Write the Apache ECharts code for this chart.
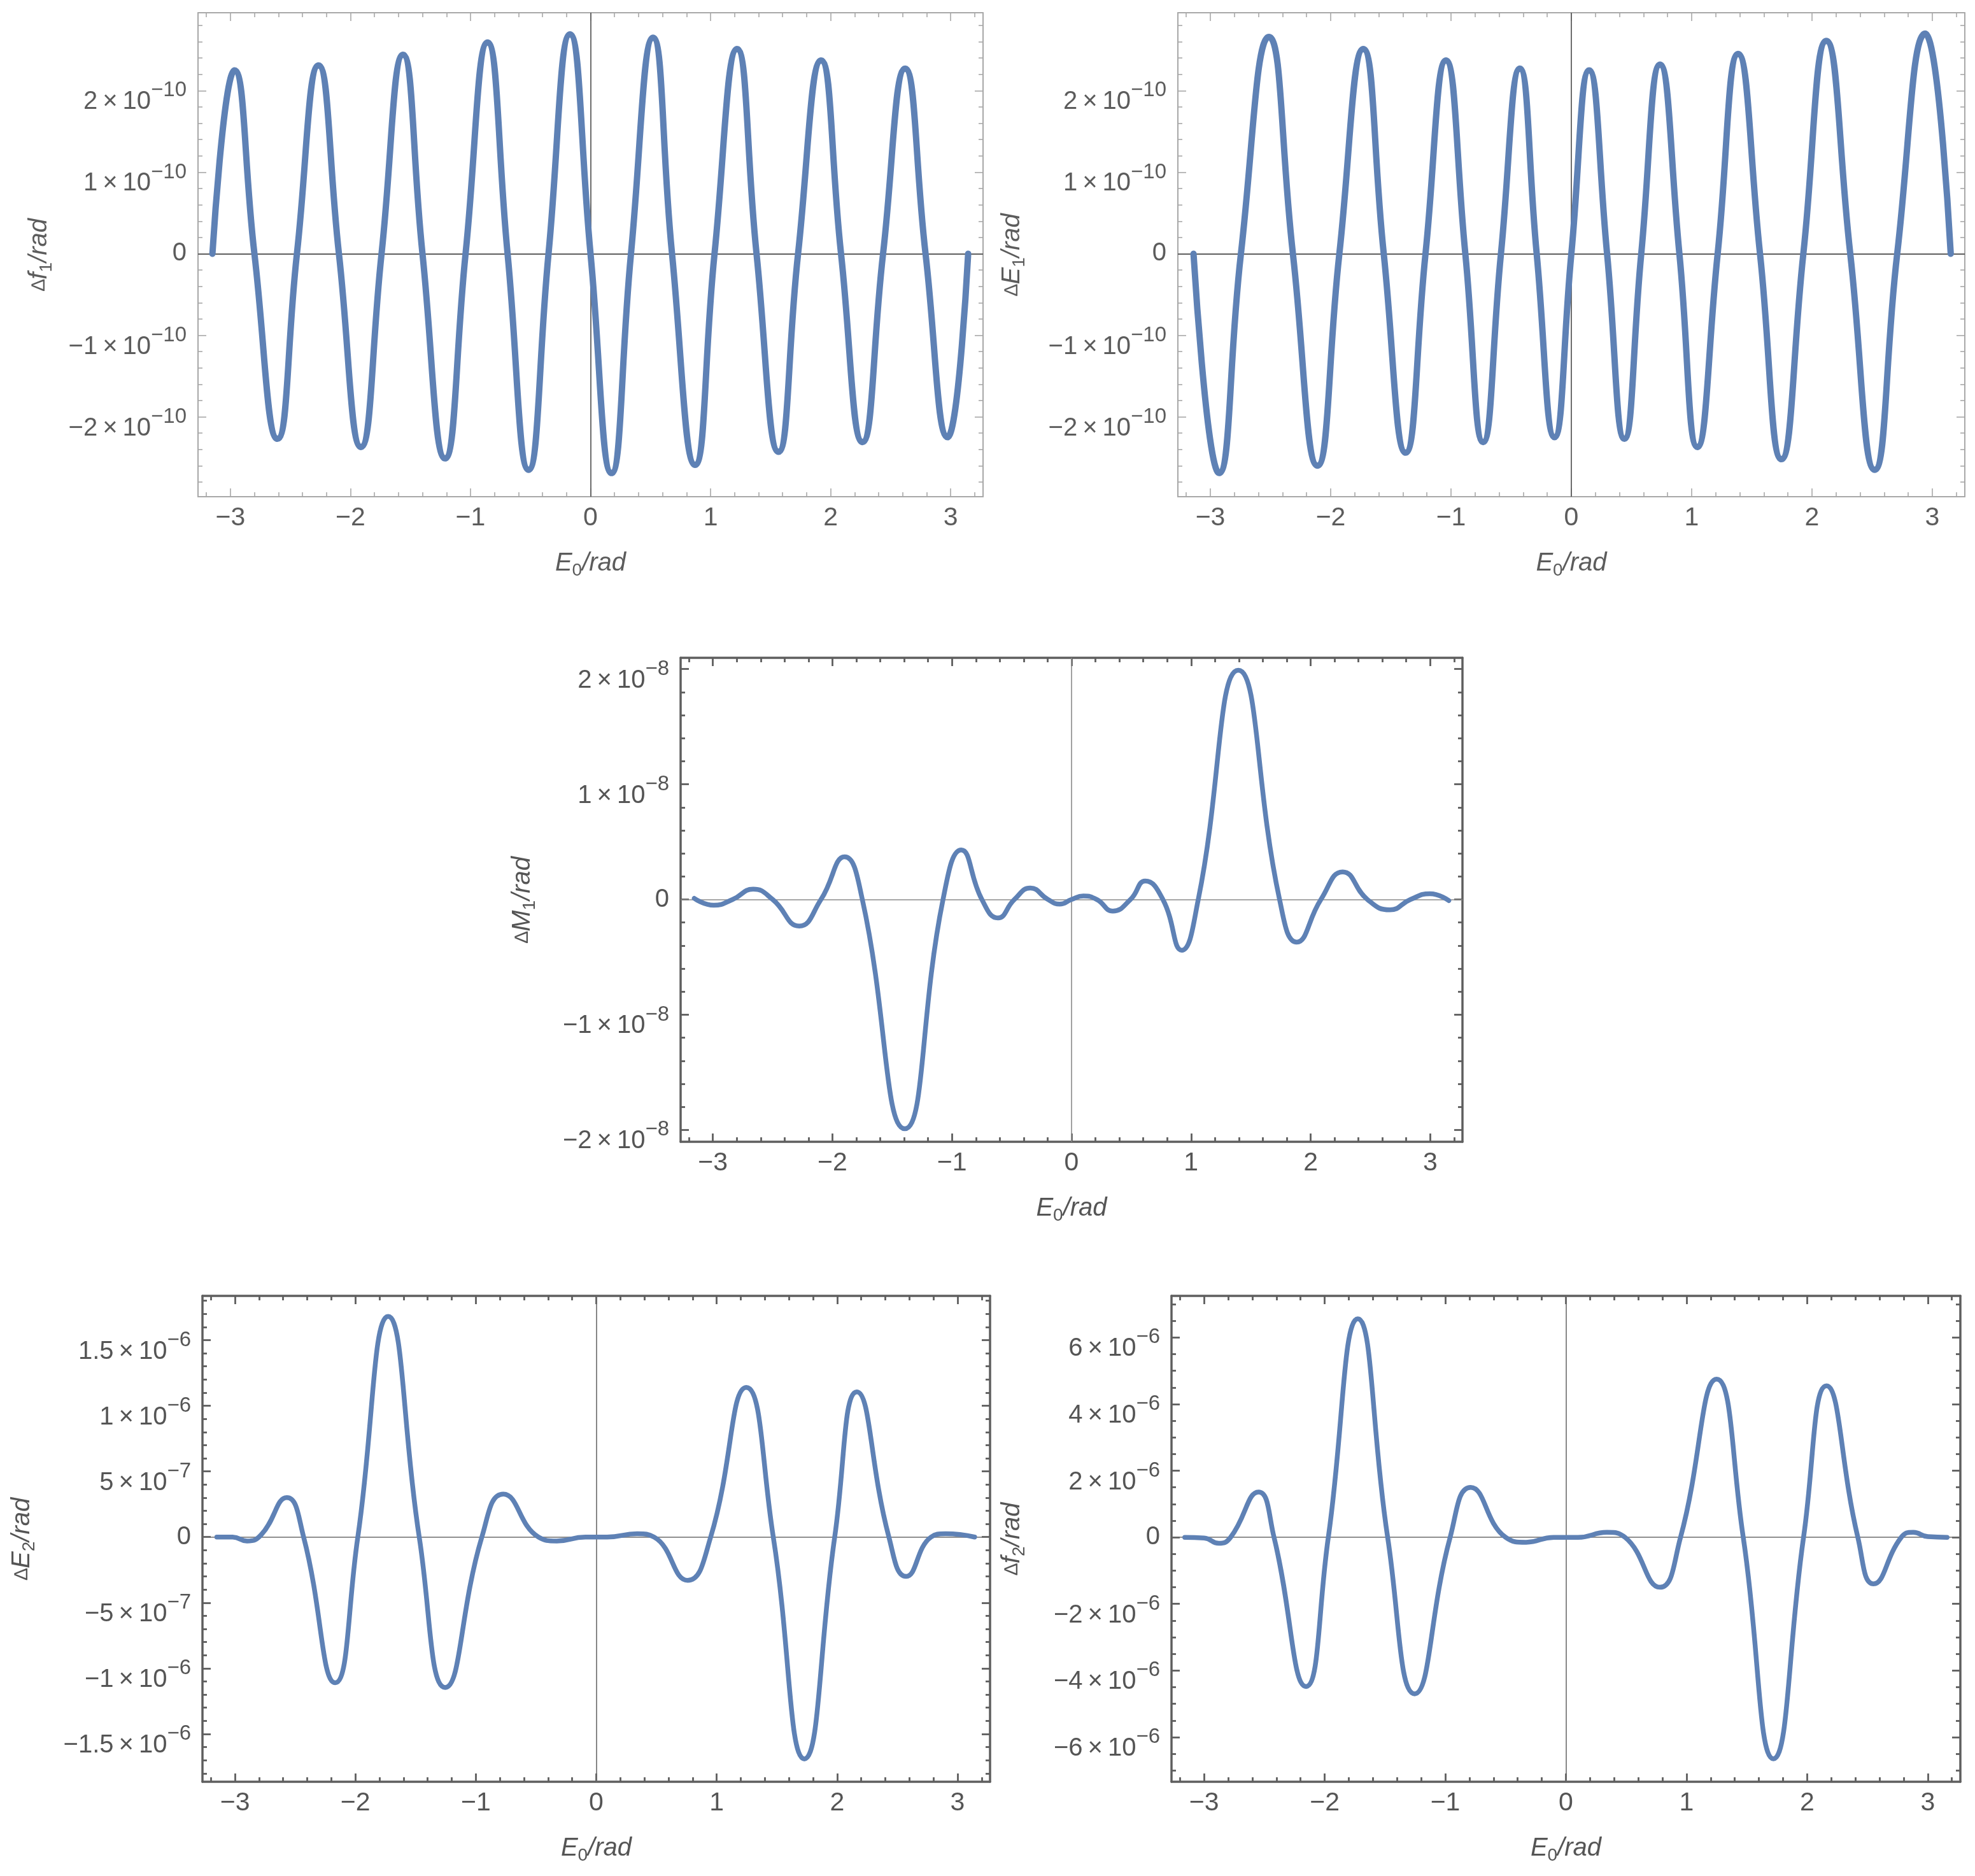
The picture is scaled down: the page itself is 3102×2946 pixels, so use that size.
<!DOCTYPE html>
<html>
<head>
<meta charset="utf-8">
<script src="https://cdn.jsdelivr.net/npm/echarts@6/dist/echarts.min.js"></script>
<style>
  html, body { margin: 0; padding: 0; background: #fff; }
  #main { width: 3102px; height: 2946px; }
</style>
</head>
<body>
<div id="main"></div>
<script>
// x axis (E0 in rad), shared by all panels
const xMin = -3.27, xMax = 3.27;
const xMajor = [-3, -2, -1, 0, 1, 2, 3];

// Δf1 (units 1e-10 rad)
const f1X = [-3.150, -2.966, -2.80, -2.608, -2.446, -2.266, -2.096, -1.912, -1.741, -1.562, -1.40, -1.212, -1.041, -0.858, -0.691, -0.516, -0.350, -0.171, 0, 0.175, 0.337, 0.521, 0.679, 0.871, 1.033, 1.221, 1.383, 1.566, 1.729, 1.921, 2.087, 2.266, 2.437, 2.621, 2.791, 2.975, 3.146];
const f1Y = [0, 2.25, 0, -2.27, 0, 2.31, 0, -2.37, 0, 2.44, 0, -2.51, 0, 2.59, 0, -2.65, 0, 2.69, 0, -2.69, 0, 2.65, 0, -2.59, 0, 2.51, 0, -2.43, 0, 2.37, 0, -2.31, 0, 2.27, 0, -2.25, 0];

// ΔE1 (units 1e-10 rad)
const e1X = [-3.14, -2.928, -2.746, -2.513, -2.314, -2.110, -1.928, -1.729, -1.559, -1.377, -1.212, -1.042, -0.881, -0.733, -0.585, -0.428, -0.288, -0.140, 0, 0.148, 0.297, 0.441, 0.581, 0.737, 0.898, 1.047, 1.216, 1.386, 1.568, 1.746, 1.928, 2.119, 2.318, 2.521, 2.708, 2.941, 3.153];
const e1Y = [0, -2.69, 0, 2.66, 0, -2.60, 0, 2.51, 0, -2.44, 0, 2.37, 0, -2.31, 0, 2.27, 0, -2.25, 0, 2.25, 0, -2.27, 0, 2.32, 0, -2.37, 0, 2.45, 0, -2.52, 0, 2.61, 0, -2.65, 0, 2.70, 0];

// ΔM1 (units 1e-8 rad)
const m1X = [-3.156, -2.993, -2.835, -2.663, -2.50, -2.278, -2.096, -1.898, -1.75, -1.395, -1.075, -0.922, -0.75, -0.616, -0.478, -0.345, -0.197, -0.099, 0, 0.099, 0.212, 0.345, 0.493, 0.616, 0.764, 0.922, 1.06, 1.395, 1.74, 1.884, 2.086, 2.268, 2.475, 2.663, 2.835, 2.998, 3.156];
const m1Y = [0.01, -0.05, 0, 0.09, 0, -0.23, 0, 0.37, 0, -1.99, 0, 0.43, 0, -0.16, 0, 0.10, 0, -0.04, 0, 0.03, 0, -0.10, 0, 0.16, 0, -0.44, 0, 1.99, 0, -0.37, 0, 0.24, 0, -0.09, 0, 0.05, -0.01];

// ΔE2 (units 1e-6 rad)
const e2X = [-3.151, -3.02, -2.90, -2.78, -2.569, -2.43, -2.168, -1.98, -1.728, -1.47, -1.254, -0.95, -0.772, -0.48, -0.328, -0.09, 0.09, 0.34, 0.48, 0.759, 0.95, 1.246, 1.47, 1.728, 1.98, 2.164, 2.43, 2.573, 2.78, 2.90, 3.142];
const e2Y = [0, 0, -0.03, 0.02, 0.30, 0, -1.11, 0, 1.68, 0, -1.146, 0, 0.327, 0, -0.03, 0, 0, 0.025, 0, -0.33, 0, 1.14, 0, -1.69, 0, 1.106, 0, -0.30, 0, 0.025, 0];

// Δf2 (units 1e-6 rad)
const f2X = [-3.16, -3.0, -2.878, -2.78, -2.548, -2.42, -2.155, -1.97, -1.725, -1.478, -1.254, -0.96, -0.79, -0.50, -0.33, -0.1, 0.1, 0.34, 0.49, 0.78, 0.95, 1.25, 1.47, 1.72, 1.97, 2.16, 2.42, 2.55, 2.78, 2.88, 3.0, 3.16];
const f2Y = [0, -0.02, -0.18, 0, 1.36, 0, -4.48, 0, 6.56, 0, -4.70, 0, 1.5, 0, -0.15, 0, 0, 0.15, 0, -1.5, 0, 4.75, 0, -6.65, 0, 4.55, 0, -1.4, 0, 0.15, 0.02, 0];

// y tick positions and their labels [mantissa, exponent]
const yMajor10 = [-2, -1, 0, 1, 2];
const yLab10 = [['−2', '−10'], ['−1', '−10'], ['0', ''], ['1', '−10'], ['2', '−10']];
const yMajor8 = [-2, -1, 0, 1, 2];
const yLab8 = [['−2', '−8'], ['−1', '−8'], ['0', ''], ['1', '−8'], ['2', '−8']];
const yMajorE2 = [-1.5, -1, -0.5, 0, 0.5, 1, 1.5];
const yLabE2 = [['−1.5', '−6'], ['−1', '−6'], ['−5', '−7'], ['0', ''], ['5', '−7'], ['1', '−6'], ['1.5', '−6']];
const yMajorF2 = [-6, -4, -2, 0, 2, 4, 6];
const yLabF2 = [['−6', '−6'], ['−4', '−6'], ['−2', '−6'], ['0', ''], ['2', '−6'], ['4', '−6'], ['6', '−6']];

const FONT = 'Liberation Sans';
const BLUE = '#5E81B5';

const light = { frame: '#a8a8a8', fw: 2, zero: '#5e5e5e', zw: 1.8, text: '#5c5c5c', lw: 10 };
const dark = { frame: '#5e5e5e', fw: 3.5, zero: '#8a8a8a', zw: 1.6, text: '#555555', lw: 7.5 };

function minorTicks(lo, hi, step, majors) {
  const out = [];
  const n = Math.round((hi - lo) / step);
  for (let k = 0; k <= n; k++) {
    const v = +(lo + k * step).toFixed(6);
    if (!majors.some(m => Math.abs(m - v) < step / 10)) out.push(v);
  }
  return out;
}
const xMinor = minorTicks(-3.2, 3.2, 0.2, xMajor);

const panels = [
  { box: [311, 20, 1233, 760], yMin: -2.98, yMax: 2.956, x: f1X, y: f1Y, yMajor: yMajor10, yLab: yLab10,
    yMinor: minorTicks(-2.8, 2.8, 0.2, yMajor10), sym: 'f', sub: '1', yGap: 224, st: light },
  { box: [1850, 20, 1236, 760], yMin: -2.98, yMax: 2.956, x: e1X, y: e1Y, yMajor: yMajor10, yLab: yLab10,
    yMinor: minorTicks(-2.8, 2.8, 0.2, yMajor10), sym: 'E', sub: '1', yGap: 235, st: light },
  { box: [1069, 1033, 1228, 760], yMin: -2.103, yMax: 2.098, x: m1X, y: m1Y, yMajor: yMajor8, yLab: yLab8,
    yMinor: minorTicks(-2.0, 2.0, 0.2, yMajor8), sym: 'M', sub: '1', yGap: 223, st: dark },
  { box: [318, 2035, 1237, 763], yMin: -1.864, yMax: 1.837, x: e2X, y: e2Y, yMajor: yMajorE2, yLab: yLabE2,
    yMinor: minorTicks(-1.8, 1.8, 0.1, yMajorE2), sym: 'E', sub: '2', yGap: 258, st: Object.assign({}, dark, { zero: '#6a6a6a' }) },
  { box: [1840, 2035, 1239, 763], yMin: -7.34, yMax: 7.25, x: f2X, y: f2Y, yMajor: yMajorF2, yLab: yLabF2,
    yMinor: minorTicks(-7, 7, 0.5, yMajorF2), sym: 'f', sub: '2', yGap: 225, st: Object.assign({}, dark, { zero: '#6a6a6a' }) }
];

const grid = [], xAxis = [], yAxis = [], series = [];

panels.forEach((p, g) => {
  const s = p.st;
  grid.push({ left: p.box[0], top: p.box[1], width: p.box[2], height: p.box[3] });

  const line = { onZero: false, lineStyle: { color: s.frame, width: s.fw } };
  const noLine = { show: false, onZero: false };
  const tickStyle = { color: s.frame, width: s.fw * 0.8 };
  const major = vals => ({ inside: true, length: 13, customValues: vals, lineStyle: tickStyle });
  const minor = vals => ({ inside: true, length: 7, customValues: vals, lineStyle: tickStyle });
  const nameRich = {
    d: { fontSize: 30, fontFamily: FONT, color: s.text },
    i: { fontSize: 40, fontStyle: 'italic', fontFamily: FONT, color: s.text },
    s: { fontSize: 28, fontFamily: FONT, color: s.text, padding: [22, 0, 0, 0] }
  };

  const xb = { type: 'value', gridIndex: g, min: xMin, max: xMax, splitLine: { show: false } };
  xAxis.push(
    Object.assign({}, xb, {
      position: 'bottom', axisLine: line, axisTick: major(xMajor),
      axisLabel: {
        customValues: xMajor, margin: 13, fontSize: 41, fontFamily: FONT, color: s.text,
        formatter: v => (v < 0 ? '−' + (-v) : String(v))
      },
      name: '{i|E}{s|0}{i|/rad}', nameLocation: 'middle', nameGap: 80,
      nameTextStyle: { rich: nameRich }
    }),
    Object.assign({}, xb, { position: 'bottom', axisLine: noLine, axisTick: minor(xMinor), axisLabel: { show: false } }),
    Object.assign({}, xb, { position: 'top', axisLine: line, axisTick: major(xMajor), axisLabel: { show: false } }),
    Object.assign({}, xb, { position: 'top', axisLine: noLine, axisTick: minor(xMinor), axisLabel: { show: false } })
  );

  const yb = { type: 'value', gridIndex: g, min: p.yMin, max: p.yMax, splitLine: { show: false } };
  yAxis.push(
    Object.assign({}, yb, {
      position: 'left', axisLine: line, axisTick: major(p.yMajor),
      axisLabel: {
        customValues: p.yMajor, margin: 18, fontFamily: FONT, color: s.text,
        formatter: v => {
          const j = p.yMajor.findIndex(m => Math.abs(m - v) < 1e-6);
          const lab = p.yLab[j];
          return lab[1] ? '{m|' + lab[0] + '\u2009×\u200910}{e|' + lab[1] + '}' : '{z|' + lab[0] + '}';
        },
        rich: {
          m: { fontSize: 40, fontFamily: FONT, color: s.text, padding: [36, 0, 0, 0] },
          e: { fontSize: 33, fontFamily: FONT, color: s.text },
          z: { fontSize: 40, fontFamily: FONT, color: s.text }
        }
      },
      name: '{d|∆}{i|' + p.sym + '}{s|' + p.sub + '}{i|/rad}', nameLocation: 'middle', nameRotate: 90,
      nameGap: p.yGap, nameTextStyle: { rich: nameRich }
    }),
    Object.assign({}, yb, { position: 'left', axisLine: noLine, axisTick: minor(p.yMinor), axisLabel: { show: false } }),
    Object.assign({}, yb, { position: 'right', axisLine: line, axisTick: major(p.yMajor), axisLabel: { show: false } }),
    Object.assign({}, yb, { position: 'right', axisLine: noLine, axisTick: minor(p.yMinor), axisLabel: { show: false } })
  );

  series.push({
    type: 'line',
    xAxisIndex: g * 4,
    yAxisIndex: g * 4,
    data: p.x.map((v, i) => [v, p.y[i]]),
    showSymbol: false,
    smooth: true,
    lineStyle: { color: BLUE, width: s.lw, cap: 'round', join: 'round' },
    z: 3,
    markLine: {
      silent: true, z: 1, symbol: ['none', 'none'], label: { show: false },
      lineStyle: { color: s.zero, width: s.zw, type: 'solid' },
      emphasis: { disabled: true },
      data: [{ yAxis: 0 }, { xAxis: 0 }]
    }
  });
});

const chart = echarts.init(document.getElementById('main'), null, { renderer: 'canvas' });
chart.setOption({
  animation: false,
  backgroundColor: '#ffffff',
  grid, xAxis, yAxis, series
});
</script>
</body>
</html>
